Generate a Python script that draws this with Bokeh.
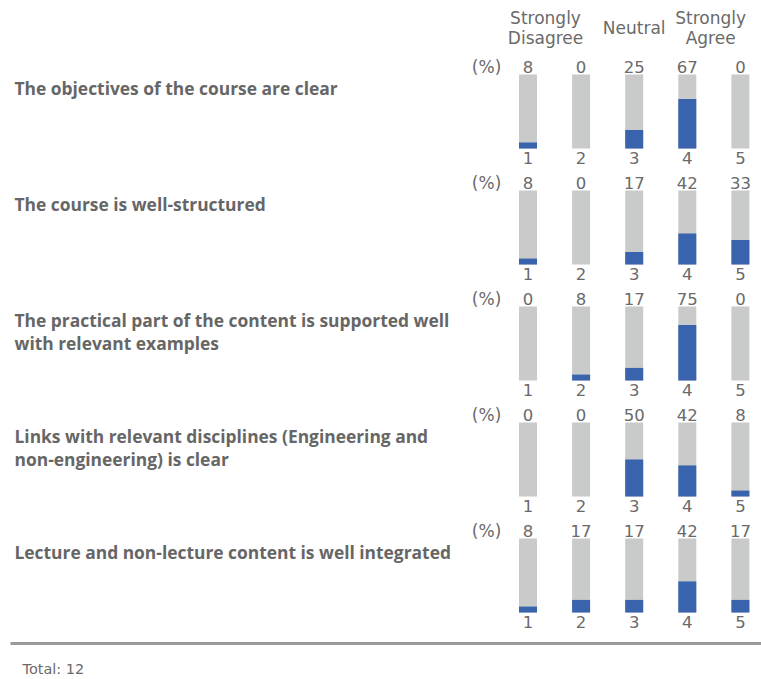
from bokeh.plotting import figure
from bokeh.models import ColumnDataSource, Range1d
from bokeh.core.properties import value
from bokeh.embed import file_html
from bokeh.resources import INLINE

# ---------------- data ----------------
questions = [
    ["The objectives of the course are clear"],
    ["The course is well-structured"],
    ["The practical part of the content is supported well", "with relevant examples"],
    ["Links with relevant disciplines (Engineering and", "non-engineering) is clear"],
    ["Lecture and non-lecture content is well integrated"],
]
scale_points = [1, 2, 3, 4, 5]
percent_values = [
    [8, 0, 25, 67, 0],
    [8, 0, 17, 42, 33],
    [0, 8, 17, 75, 0],
    [0, 0, 50, 42, 8],
    [8, 17, 17, 42, 17],
]
header_labels = [["Strongly", "Disagree"], ["Neutral"], ["Strongly", "Agree"]]
header_positions = [1.33, 3.0, 4.44]
total_responses = 12

# ---------------- layout constants ----------------
W, H = 761, 679
STEP = 53.1            # px per scale point
FIRST_BAR_PX = 527.5   # px of scale point 1 from figure left
X0 = 1 - FIRST_BAR_PX / STEP
X1 = X0 + W / STEP
ROW_PITCH = 116
BAR_H = 74
TOP = 148
BAR_W = 18 / STEP

BLUE = "#3a63ad"
GRAY = "#c9caca"
TXT = "#6a6a6a"
QTXT = "#666666"

p = figure(width=W, height=H, output_backend="svg", toolbar_location=None,
           x_range=Range1d(X0, X1), y_range=Range1d(TOP - H, TOP),
           min_border=0)
p.xaxis.visible = False
p.yaxis.visible = False
p.grid.visible = False
p.outline_line_color = None

bx, bb, bt_bg, bt_fg, pct_txt, pct_y, num_txt, num_y = [], [], [], [], [], [], [], []
q_x, q_y, q_t = [], [], []
pc_x, pc_y = [], []
for r, (qs, vals) in enumerate(zip(questions, percent_values)):
    base = -r * ROW_PITCH
    for s, v in zip(scale_points, vals):
        bx.append(s)
        bb.append(base)
        bt_bg.append(base + BAR_H)
        bt_fg.append(base + BAR_H * v / 100.0)
        pct_txt.append(str(v))
        pct_y.append(base + BAR_H + 8)
        num_txt.append(str(s))
        num_y.append(base - 9)
    pc_x.append(0.22)
    pc_y.append(base + BAR_H + 8)
    for i, line in enumerate(qs):
        q_x.append(X0 + 14 / STEP)
        q_y.append(base + 61 - 23 * i)
        q_t.append(line)

src = ColumnDataSource(dict(x=bx, b=bb, tbg=bt_bg, tfg=bt_fg))
p.vbar(x="x", bottom="b", top="tbg", width=BAR_W, source=src,
       fill_color=GRAY, line_color=None)
p.vbar(x="x", bottom="b", top="tfg", width=BAR_W, source=src,
       fill_color=BLUE, line_color=None)

p.text(x=bx, y=pct_y, text=pct_txt, text_font=value("DejaVu Sans"),
       text_font_size="16.5px", text_color=TXT, text_align="center",
       text_baseline="middle")
p.text(x=bx, y=num_y, text=num_txt, text_font=value("DejaVu Sans"),
       text_font_size="16.5px", text_color=TXT, text_align="center",
       text_baseline="middle")
p.text(x=pc_x, y=pc_y, text=["(%)"] * len(pc_x), text_font=value("DejaVu Sans"),
       text_font_size="17px", text_color=TXT, text_align="center",
       text_baseline="middle")
p.text(x=q_x, y=q_y, text=q_t, text_font=value("Open Sans"),
       text_font_size="17.4px", text_font_style="bold", text_color=QTXT,
       text_align="left", text_baseline="middle")

# header
hx, hy, ht = [], [], []
for lines, xpos in zip(header_labels, header_positions):
    if len(lines) == 1:
        hx.append(xpos); hy.append(121); ht.append(lines[0])
    else:
        for i, line in enumerate(lines):
            hx.append(xpos); hy.append(131 - 20 * i); ht.append(line)
p.text(x=hx, y=hy, text=ht, text_font=value("DejaVu Sans"),
       text_font_size="17px", text_color=TXT, text_align="center",
       text_baseline="middle")

# bottom rule and total
p.segment(x0=[X0 + 10 / STEP], y0=[-495], x1=[X1], y1=[-495],
          line_color="#9a9a9a", line_width=3)
p.text(x=[X0 + 22 / STEP], y=[-520], text=[f"Total: {total_responses}"],
       text_font=value("DejaVu Sans"), text_font_size="14.5px", text_color=TXT,
       text_align="left", text_baseline="middle")

open("out.html", "w").write(file_html(p, INLINE))
